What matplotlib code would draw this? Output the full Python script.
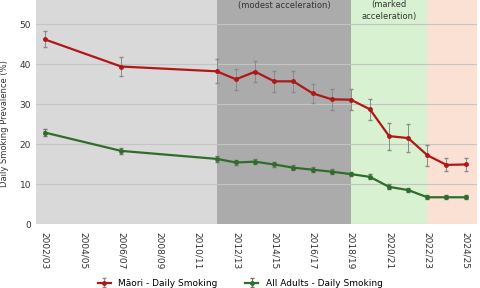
import matplotlib

matplotlib.use("Agg")

import matplotlib.pyplot as plt
import numpy as np

# Survey years (tick labels) and positions of surveyed points
years = ["2002/03", "2004/05", "2006/07", "2008/09", "2010/11", "2012/13",
         "2014/15", "2016/17", "2018/19", "2020/21", "2022/23", "2024/25"]
survey = ["2002/03", "2006/07", "2011/12", "2012/13", "2013/14", "2014/15",
          "2015/16", "2016/17", "2017/18", "2018/19", "2019/20", "2020/21",
          "2021/22", "2022/23", "2023/24", "2024/25"]

maori = [46.2, 39.4, 38.2, 36.2, 38.1, 35.7, 35.7, 32.7, 31.2, 31.1,
         28.7, 22.0, 21.5, 17.2, 14.8, 14.9]
maori_err = [2.0, 2.4, 3.0, 2.6, 2.6, 2.7, 2.7, 2.4, 2.6, 2.6,
             2.6, 3.4, 3.6, 2.6, 1.6, 1.6]
adults = [22.9, 18.3, 16.3, 15.4, 15.6, 14.9, 14.1, 13.6, 13.1, 12.5,
          11.8, 9.3, 8.5, 6.7, 6.7, 6.7]
adults_err = [0.9, 0.8, 0.8, 0.7, 0.7, 0.7, 0.7, 0.7, 0.6, 0.6,
              0.6, 0.6, 0.6, 0.5, 0.5, 0.5]

# Phase shading: (start index, end index, colour)
phases = [(-0.45, 9, "#d9d9d9"), (9, 16, "#ababab"),
          (16, 20, "#d8f1d0"), (20, 22.6, "#fbe1d4")]


def year_pos(label: str) -> int:
    return int(label[:4]) - 2002


x = np.array([year_pos(s) for s in survey])
tick_x = [year_pos(s) for s in years]

fig = plt.figure(figsize=(4.8, 2.88), dpi=100)
ax = fig.add_axes([0.075, 0.222, 0.919, 0.833])

for start, end, colour in phases:
    ax.axvspan(start, end, color=colour, lw=0, zorder=0)

ax.set_axisbelow(True)
ax.yaxis.grid(True, color="#c4c4c4", lw=0.8, zorder=1)

ax.text(12.5, 54.7, "(modest acceleration)", ha="center", va="center",
        fontsize=6, color="#333333")
ax.text(18, 53.4, "(marked\nacceleration)", ha="center", va="center",
        fontsize=6, color="#333333", linespacing=1.3)

ax.errorbar(x, maori, yerr=maori_err, color="#b01818", lw=1.6, marker="o",
            ms=2.5, ecolor="#8a8a8a", elinewidth=0.7, capsize=1.5,
            label="Māori - Daily Smoking", zorder=3)
ax.errorbar(x, adults, yerr=adults_err, color="#2f6e2a", lw=1.6, marker="o",
            ms=2.5, ecolor="#707070", elinewidth=0.7, capsize=1.5,
            label="All Adults - Daily Smoking", zorder=3)

ax.set_xlim(-0.45, 22.6)
ax.set_ylim(0, 60)
ax.set_yticks([0, 10, 20, 30, 40, 50])
ax.set_xticks(tick_x)
ax.set_xticklabels(years, rotation=270, fontsize=6.5, color="#333333")
ax.tick_params(axis="y", labelsize=6.5, colors="#333333", length=0)
ax.tick_params(axis="x", length=0, pad=6)
for spine in ax.spines.values():
    spine.set_visible(False)
ax.set_ylabel("Daily Smoking Prevalence (%)", fontsize=6, color="#333333",
              labelpad=4)
ax.yaxis.set_label_coords(-0.062, 0.42)

fig.legend(loc="upper center", bbox_to_anchor=(0.5, 0.06), ncol=2,
           frameon=False, fontsize=6.5, columnspacing=3, handlelength=1.5)

fig.savefig("out.png", dpi=100)
